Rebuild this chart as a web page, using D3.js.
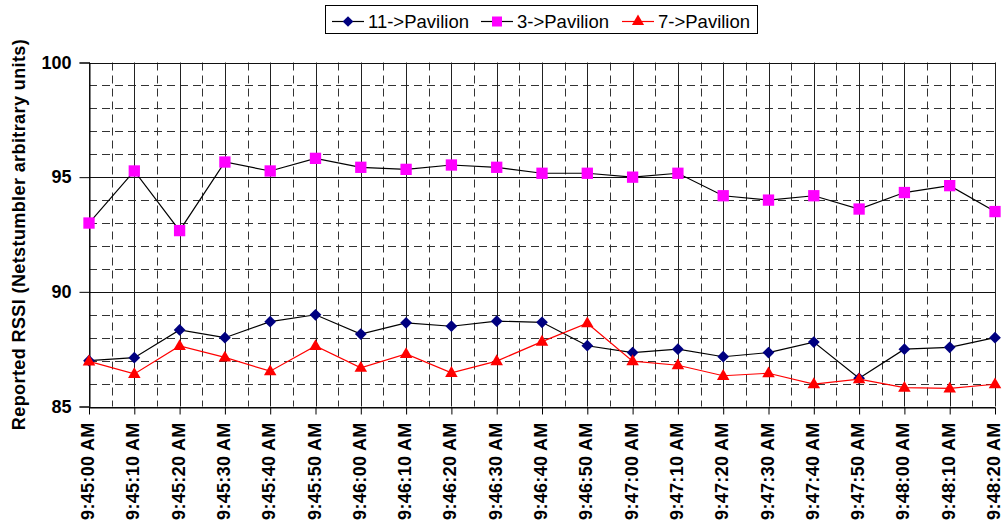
<!DOCTYPE html>
<html>
<head>
<meta charset="utf-8">
<script src="https://cdn.jsdelivr.net/npm/d3@7"></script>
<style>
  html, body { margin: 0; padding: 0; background: #fff; }
  svg { display: block; }
  text { font-family: "Liberation Sans", Arial, Helvetica, sans-serif; }
</style>
</head>
<body>
<svg id="chart" width="1003" height="524"></svg>
<script>
// Sample times (10 s apart)
const times = [
  "9:45:00 AM", "9:45:10 AM", "9:45:20 AM", "9:45:30 AM", "9:45:40 AM",
  "9:45:50 AM", "9:46:00 AM", "9:46:10 AM", "9:46:20 AM", "9:46:30 AM",
  "9:46:40 AM", "9:46:50 AM", "9:47:00 AM", "9:47:10 AM", "9:47:20 AM",
  "9:47:30 AM", "9:47:40 AM", "9:47:50 AM", "9:48:00 AM", "9:48:10 AM",
  "9:48:20 AM"
];

// Reported RSSI per link
const rssi11 = [87.0, 87.13, 88.34, 88.0, 88.7, 89.0, 88.16, 88.65, 88.5, 88.72,
                88.67, 87.65, 87.35, 87.5, 87.17, 87.35, 87.81, 86.23, 87.5, 87.58, 88.0];
const rssi3  = [93.0, 95.27, 92.67, 95.66, 95.27, 95.82, 95.43, 95.34, 95.53, 95.43,
                95.17, 95.17, 95.0, 95.17, 94.19, 94.0, 94.19, 93.61, 94.33, 94.63, 93.5];
const rssi7  = [86.97, 86.42, 87.64, 87.14, 86.54, 87.64, 86.69, 87.29, 86.47, 86.98,
                87.83, 88.63, 86.98, 86.8, 86.34, 86.45, 85.98, 86.19, 85.82, 85.79, 85.97];

const yTicks = [85, 90, 95, 100];
const yMinorTicks = [86, 87, 88, 89, 91, 92, 93, 94, 96, 97, 98, 99];

const seriesNames = ["11->Pavilion", "3->Pavilion", "7->Pavilion"];

const FONT = "'Liberation Sans', Arial, Helvetica, sans-serif";

const series = [
  { name: seriesNames[0], values: rssi11, line: "#000000", fill: "#000080", marker: "diamond" },
  { name: seriesNames[1], values: rssi3,  line: "#000000", fill: "#FF00FF", marker: "square" },
  { name: seriesNames[2], values: rssi7,  line: "#FF0000", fill: "#FF0000", marker: "triangle" }
];

const svg = d3.select("#chart");
const plot = { left: 89, right: 995, top: 62.5, bottom: 406.5 };

const x = d3.scalePoint().domain(times).range([plot.left, plot.right]);
const y = d3.scaleLinear().domain([85, 100]).range([plot.bottom, plot.top]);

// Marker shapes
const symbolFor = {
  diamond: d3.symbol().type(d3.symbolDiamond2).size(88),
  square: d3.symbol().type(d3.symbolSquare).size(128),
  triangle: d3.symbol().type(d3.symbolTriangle).size(68)
};

// Minor horizontal gridlines (dashed, every unit)
const grid = svg.append("g").attr("class", "grid");
grid.selectAll("line.hminor").data(yMinorTicks).join("line")
  .attr("x1", plot.left).attr("x2", plot.right)
  .attr("y1", d => Math.round(y(d)) + 0.5).attr("y2", d => Math.round(y(d)) + 0.5)
  .attr("stroke", "#333").attr("stroke-width", 1).attr("stroke-dasharray", "8,5");

// Minor vertical gridlines halfway between categories (dashed)
const step = x.step();
const mids = times.slice(0, -1).map(t => x(t) + step / 2);
grid.selectAll("line.vminor").data(mids).join("line")
  .attr("x1", d => Math.round(d) + 0.5).attr("x2", d => Math.round(d) + 0.5)
  .attr("y1", plot.top).attr("y2", plot.bottom)
  .attr("stroke", "#333").attr("stroke-width", 1).attr("stroke-dasharray", "8,5");

// Major horizontal gridlines
grid.selectAll("line.hmajor").data(yTicks).join("line")
  .attr("x1", plot.left).attr("x2", plot.right)
  .attr("y1", d => Math.round(y(d)) + 0.5).attr("y2", d => Math.round(y(d)) + 0.5)
  .attr("stroke", "#111").attr("stroke-width", 1);

// Major vertical gridlines at each category
grid.selectAll("line.vmajor").data(times).join("line")
  .attr("x1", d => Math.round(x(d)) + 0.5).attr("x2", d => Math.round(x(d)) + 0.5)
  .attr("y1", plot.top).attr("y2", plot.bottom)
  .attr("stroke", "#222").attr("stroke-width", 1);

// Y axis
const yAxis = svg.append("g")
  .attr("transform", `translate(${Math.round(plot.left) + 0.5},0)`)
  .call(d3.axisLeft(y).tickValues(yTicks).tickSize(10).tickPadding(8).tickFormat(d3.format("d")));
yAxis.attr("font-family", FONT);
yAxis.select(".domain").attr("stroke", "#000");
yAxis.selectAll(".tick line").attr("stroke", "#000");
yAxis.selectAll(".tick text")
  .attr("font-family", FONT)
  .attr("font-size", 18).attr("font-weight", "bold").attr("fill", "#000");

// X axis with rotated time labels
const xAxis = svg.append("g")
  .attr("transform", `translate(0,${Math.round(plot.bottom) + 0.5})`)
  .call(d3.axisBottom(x).tickSize(7).tickSizeOuter(0));
xAxis.attr("font-family", FONT);
xAxis.select(".domain").attr("stroke", "#000");
xAxis.selectAll(".tick line").attr("stroke", "#000");
xAxis.selectAll(".tick text")
  .attr("font-family", FONT)
  .attr("font-size", 18).attr("font-weight", "bold").attr("fill", "#000")
  .attr("text-anchor", "end")
  .attr("letter-spacing", 0.3)
  .attr("transform", "rotate(-90)")
  .attr("x", -15).attr("y", 0).attr("dy", "0.25em");

// Y axis title
svg.append("text")
  .attr("transform", `translate(25,${(plot.top + plot.bottom) / 2}) rotate(-90)`)
  .attr("text-anchor", "middle")
  .attr("font-family", FONT)
  .attr("font-size", 18).attr("font-weight", "bold").attr("fill", "#000")
  .attr("letter-spacing", 0.4)
  .text("Reported RSSI (Netstumbler arbitrary units)");

// Series lines and markers
const line = d3.line().x((d, i) => x(times[i])).y(d => y(d));
series.forEach(s => {
  const g = svg.append("g").attr("class", "series");
  g.append("path").datum(s.values)
    .attr("d", line).attr("fill", "none")
    .attr("stroke", s.line).attr("stroke-width", 1.2);
  g.selectAll("path.marker").data(s.values).join("path")
    .attr("class", "marker")
    .attr("d", symbolFor[s.marker])
    .attr("transform", (d, i) => `translate(${x(times[i])},${y(d) + (s.marker === "triangle" ? 0.5 : 0)})`)
    .attr("fill", s.fill);
});

// Legend
const legend = svg.append("g");
legend.append("rect")
  .attr("x", 325.5).attr("y", 5.5).attr("width", 432).attr("height", 28)
  .attr("fill", "#fff").attr("stroke", "#000").attr("stroke-width", 1);
const legendX = [332, 481, 622];
const legendSymbol = {
  diamond: d3.symbol().type(d3.symbolDiamond2).size(72),
  square: d3.symbol().type(d3.symbolSquare).size(100),
  triangle: d3.symbol().type(d3.symbolTriangle).size(64)
};
series.forEach((s, i) => {
  const lx = legendX[i];
  const ly = 21.5;
  legend.append("line")
    .attr("x1", lx).attr("x2", lx + 32).attr("y1", ly).attr("y2", ly)
    .attr("stroke", s.line).attr("stroke-width", 1.2);
  legend.append("path")
    .attr("d", legendSymbol[s.marker])
    .attr("transform", `translate(${lx + 16},${ly})`)
    .attr("fill", s.fill);
  legend.append("text")
    .attr("x", lx + 36).attr("y", 28)
    .attr("font-family", FONT)
    .attr("font-size", 18.5).attr("fill", "#000")
    .text(s.name);
});
</script>
</body>
</html>
